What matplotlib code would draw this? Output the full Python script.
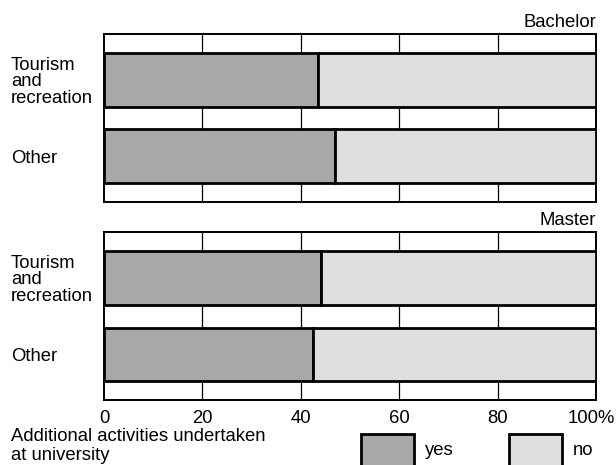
import matplotlib
matplotlib.use("Agg")
import matplotlib.pyplot as plt
from matplotlib.patches import Rectangle
from matplotlib.transforms import ScaledTranslation

plt.rcParams['font.family'] = ['Liberation Sans', 'DejaVu Sans']

# data (share of students, %)
groups = ['Bachelor', 'Master']
fields = ['Tourism\nand\nrecreation', 'Other']
yes_share = {
    'Bachelor': [43.5, 47.0],
    'Master': [44.1, 42.5],
}
xticks = [0, 20, 40, 60, 80, 100]
xtick_labels = ['0', '20', '40', '60', '80', '100%']

c_yes = '#a8a8a8'
c_no = '#dedede'
fs = 13.3

fig = plt.figure(figsize=(6.16, 4.65), dpi=100)

boxes = [
    [0.1688, 0.5662, 0.7987, 0.3600],
    [0.1688, 0.1398, 0.7987, 0.3606],
]

for grp, box in zip(groups, boxes):
    ax = fig.add_axes(box)
    yes = yes_share[grp]
    no = [100 - v for v in yes]
    ypos = list(range(len(fields)))
    ax.barh(ypos, yes, height=0.7, color=c_yes, edgecolor='black', linewidth=2.0, zorder=3)
    ax.barh(ypos, no, left=yes, height=0.7, color=c_no, edgecolor='black', linewidth=2.0, zorder=3)

    ax.set_xlim(0, 100)
    ax.set_ylim(1.6, -0.6)
    ax.set_xticks(xticks)
    for x in xticks[1:-1]:
        ax.axvline(x, color='black', lw=0.9, zorder=1)

    ax.set_yticks(ypos)
    ax.set_yticklabels(fields, fontsize=fs, ha='left', linespacing=0.98)
    ax.tick_params(axis='y', length=0, pad=67)
    for s in ax.spines.values():
        s.set_linewidth(1.4)

    ax.set_title(grp, loc='right', fontsize=fs, pad=5)

    if grp == 'Master':
        ax.set_xticklabels(xtick_labels, fontsize=fs)
        ax.tick_params(axis='x', length=0, pad=7.5)
        last = ax.get_xticklabels()[-1]
        last.set_transform(last.get_transform() + ScaledTranslation(-5 / 100, 0, fig.dpi_scale_trans))
    else:
        ax.tick_params(axis='x', length=0, labelbottom=False)

# legend drawn by hand below the axis
fig.text(0.018, 5 / 465, 'Additional activities undertaken\nat university', fontsize=fs,
         ha='left', va='baseline', linespacing=1.12)

for x0, col, lab in [(361, c_yes, 'yes'), (509, c_no, 'no')]:
    fig.patches.append(Rectangle((x0 / 616, -0.05), 53 / 616, 0.116, transform=fig.transFigure,
                                 facecolor=col, edgecolor='black', linewidth=2.0, clip_on=False))
    fig.text((x0 + 64) / 616, 10 / 465, lab, fontsize=fs, ha='left', va='baseline')

fig.savefig('out.png', dpi=100)
